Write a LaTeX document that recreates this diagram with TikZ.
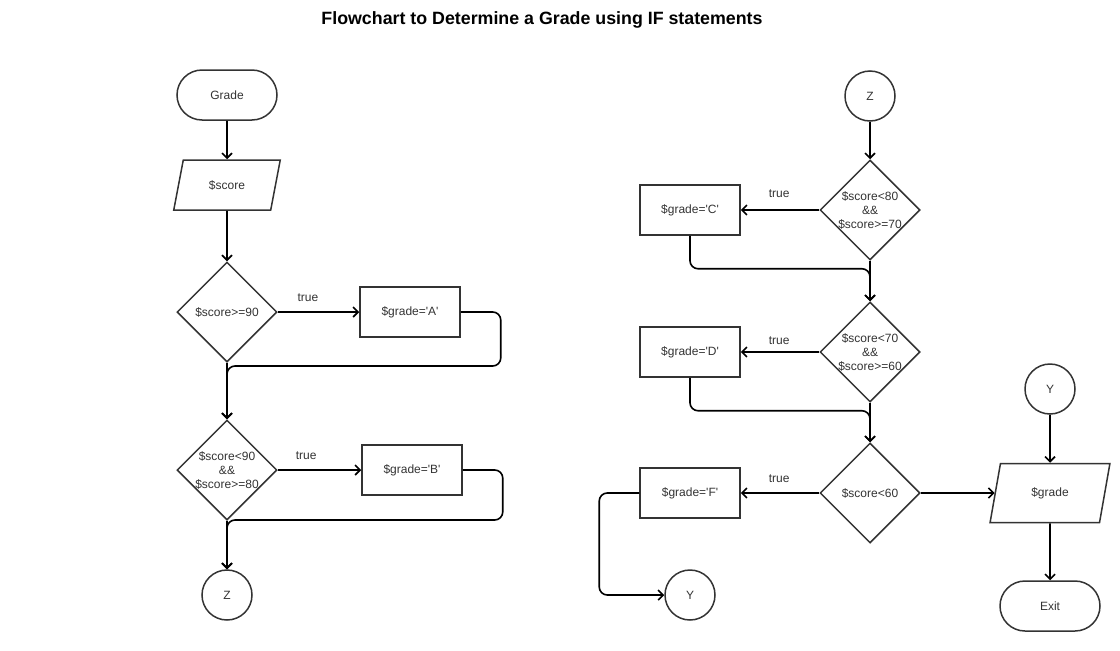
\documentclass[tikz,border=0pt]{standalone}
\usepackage{fontspec}
\setmainfont{Liberation Sans}[Ligatures=TeXOff]
\usetikzlibrary{shapes.geometric,arrows.meta}
\definecolor{edgec}{HTML}{333333}
\definecolor{txtc}{HTML}{333333}
\begin{document}
\begin{tikzpicture}[x=1pt,y=-1pt,
  every node/.style={font=\fontsize{12}{14}\selectfont, text=txtc},
  box/.style={draw=edgec, line width=1.5pt, rectangle, minimum width=100pt, minimum height=50pt, inner sep=0pt},
  term/.style={box, rounded corners=25pt},
  circ/.style={draw=edgec, line width=1.5pt, circle, minimum size=50pt, inner sep=0pt},
  dia/.style={draw=edgec, line width=1.5pt, diamond, minimum width=100pt, minimum height=100pt, inner sep=0pt},
  para/.style={draw=edgec, line width=1.5pt, trapezium, trapezium left angle=#1, trapezium right angle=180-#1, trapezium stretches=true, inner sep=0pt},
  dtext/.style={align=center, inner sep=0pt},
  conn/.style={draw=black, line width=1.6pt, -{Straight Barb[length=5pt,width=10pt]}},
  loop/.style={conn, rounded corners=8pt},
  lbl/.style={above=#1, inner sep=0pt},
  lbl/.default=10pt
]
\useasboundingbox (0,0) rectangle (1120,651);
\node[font=\bfseries\fontsize{17.8}{20}\selectfont, text=black] (title) at (542,20) {Flowchart to Determine a Grade using IF statements};

% left column
\node[term] (grade) at (227,95) {Grade};
\node[para=68, minimum width=107pt, minimum height=50pt] (score) at (227,185) {\$score};
\node[dia] (d1) at (227,312) {};
\node[dtext] (d1t) at (d1) {\$score>=90};
\node[box] (A) at (410,312) {\$grade='A'};
\node[dia] (d2) at (227,470) {};
\node[dtext] (d2t) at (d2) {\$score<90\\\&\&\\\$score>=80};
\node[box] (B) at (412,470) {\$grade='B'};
\node[circ] (z1) at (227,595) {Z};

\draw[conn] (grade.south) -- (score.north);
\draw[conn] (score.south) -- (d1.north);
\draw[conn] (d1.east) -- node[lbl, pos=0.37] (t1) {true} (A.west);
\draw[conn] (d1.south) -- (d2.north);
\draw[loop] (A.east) -- ++(40,0) -- ++(0,54) -| (d2.north);
\draw[conn] (d2.east) -- node[lbl, pos=0.34] (t2) {true} (B.west);
\draw[conn] (d2.south) -- (z1.north);
\draw[loop] (B.east) -- ++(40,0) -- ++(0,50) -| (z1.north);

% right column
\node[circ] (z2) at (870,96) {Z};
\node[dia] (dC) at (870,210) {};
\node[dtext] (dCt) at (dC) {\$score<80\\\&\&\\\$score>=70};
\node[box] (C) at (690,210) {\$grade='C'};
\node[dia] (dD) at (870,352) {};
\node[dtext] (dDt) at (dD) {\$score<70\\\&\&\\\$score>=60};
\node[box] (D) at (690,352) {\$grade='D'};
\node[dia] (dF) at (870,493) {};
\node[dtext] (dFt) at (dF) {\$score<60};
\node[box] (F) at (690,493) {\$grade='F'};
\node[circ] (y1) at (690,595) {Y};
\node[circ] (y2) at (1050,389) {Y};
\node[para=71, minimum width=120pt, minimum height=59pt] (out) at (1050,493) {\$grade};
\node[term] (exit) at (1050,606) {Exit};

\draw[conn] (z2.south) -- (dC.north);
\draw[conn] (dC.west) -- node[lbl=12pt, pos=0.51] (t3) {true} (C.east);
\draw[conn] (dC.south) -- (dD.north);
\draw[loop] (C.south) -- ++(0,33) -| (dD.north);
\draw[conn] (dD.west) -- node[lbl=7pt, pos=0.51] (t4) {true} (D.east);
\draw[conn] (dD.south) -- (dF.north);
\draw[loop] (D.south) -- ++(0,33) -| (dF.north);
\draw[conn] (dF.west) -- node[lbl, pos=0.51] (t5) {true} (F.east);
\draw[loop] (F.west) -- ++(-40,0) |- (y1.west);
\draw[conn] (dF.east) -- (out.west);
\draw[conn] (y2.south) -- (out.north);
\draw[conn] (out.south) -- (exit.north);
\end{tikzpicture}
\end{document}
